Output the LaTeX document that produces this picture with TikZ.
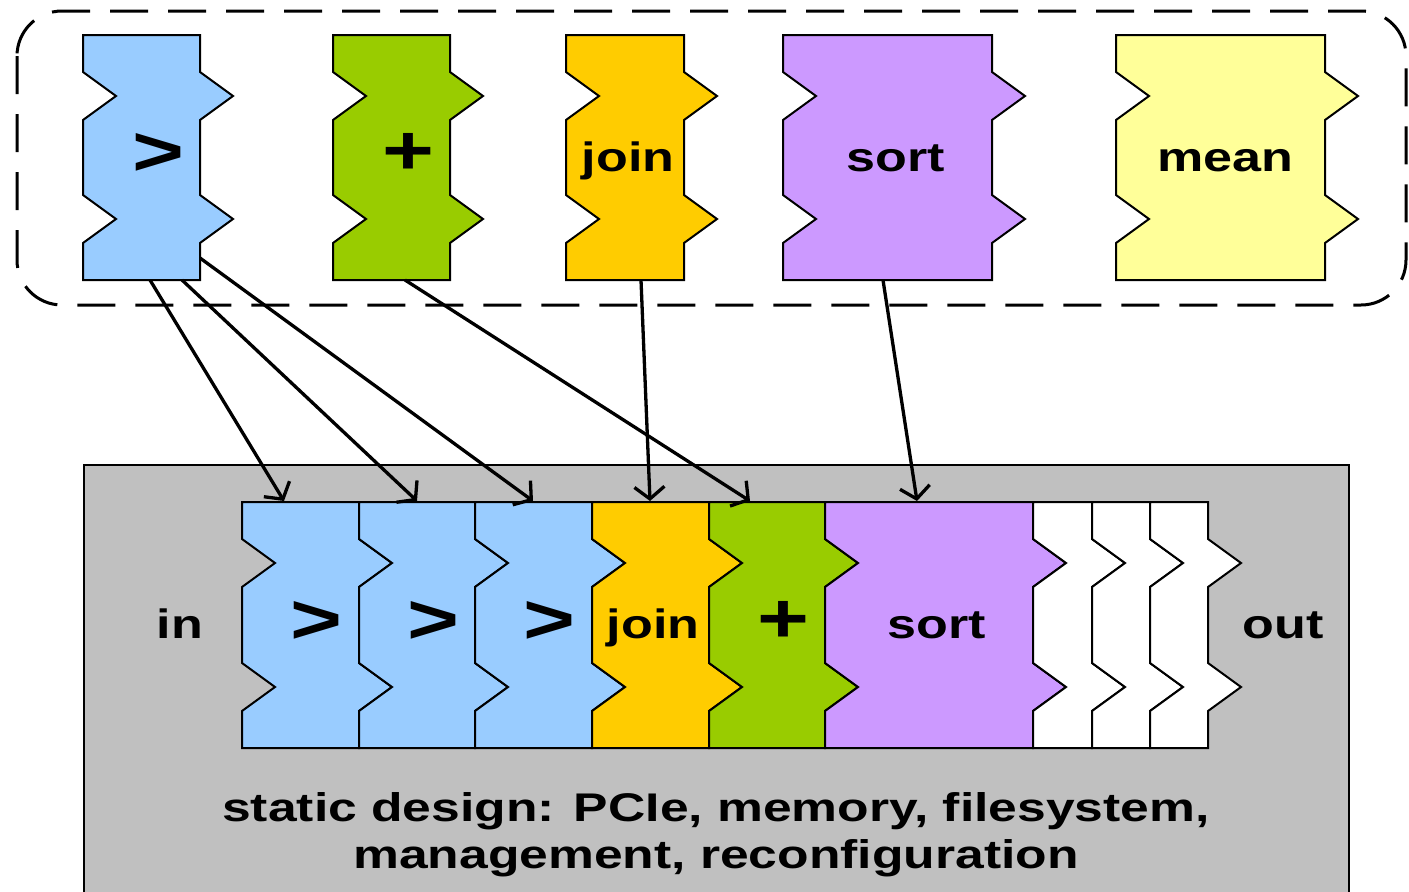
\documentclass[tikz,border=0pt]{standalone}
\usepackage{fontspec}
\setmainfont{Liberation Sans}
\usetikzlibrary{arrows.meta}
\definecolor{cblue}{HTML}{99CCFF}
\definecolor{cgreen}{HTML}{99CC00}
\definecolor{corange}{HTML}{FFCC00}
\definecolor{cpurple}{HTML}{CC99FF}
\definecolor{cyellow}{HTML}{FFFF99}
\definecolor{cgray}{HTML}{C0C0C0}
\newcommand\hstr[1]{\scalebox{1.27}[1]{#1}}
\newcommand\hstrb[1]{\scalebox{1.29}[1]{#1}}
\newcommand\puzblk[5]{% left x, top y, right x, height, colour
  \filldraw[blkline, fill=#5] (#1,#2) -- (#3,#2) -- (#3,#2+37) -- (#3+33,#2+61) -- (#3,#2+85)
   -- (#3,#2+#4-85) -- (#3+33,#2+#4-61) -- (#3,#2+#4-37) -- (#3,#2+#4) -- (#1,#2+#4)
   -- (#1,#2+#4-37) -- (#1+33,#2+#4-61) -- (#1,#2+#4-85) -- (#1,#2+85)
   -- (#1+33,#2+61) -- (#1,#2+37) -- cycle;}
\tikzset{
  blkline/.style={draw=black, line width=2pt, line join=miter},
  lbl/.style={font=\bfseries\fontsize{41}{41}\selectfont, inner sep=0pt, anchor=base},
  sym/.style={font=\bfseries\fontsize{70}{70}\selectfont, inner sep=0pt},
  conn/.style={draw=black, line width=3.3pt, -{Straight Barb[length=12pt,width=30pt,line width=3.3pt]}},
}
\begin{document}
\begin{tikzpicture}[x=1pt,y=-1pt]
\useasboundingbox (0,0) rectangle (1409,892);
% static region
\filldraw[fill=cgray, draw=black, line width=2pt] (84,465) rectangle (1349,905);
% dashed library region
\draw[line width=3pt, dash pattern=on 38pt off 20pt, rounded corners=45pt] (17,11) rectangle (1406,305);
% top blocks
\puzblk{83}{35}{200}{245}{cblue}
\puzblk{333}{35}{450}{245}{cgreen}
\puzblk{566}{35}{684}{245}{corange}
\puzblk{783}{35}{992}{245}{cpurple}
\puzblk{1116}{35}{1325}{245}{cyellow}
\node[sym] (tgt) at (158,154) {\hstr{>}};
\node[sym] (tplus) at (408,154) {\hstr{+}};
\node[lbl] (tjoin) at (628,171) {\hstr{join}};
\node[lbl] (tsort) at (896,171) {\hstr{sort}};
\node[lbl] (tmean) at (1225,171) {\hstr{mean}};
% bottom blocks
\puzblk{242}{502}{359}{246}{cblue}
\puzblk{359}{502}{475}{246}{cblue}
\puzblk{475}{502}{592}{246}{cblue}
\puzblk{592}{502}{709}{246}{corange}
\puzblk{709}{502}{825}{246}{cgreen}
\puzblk{825}{502}{1033}{246}{cpurple}
\puzblk{1033}{502}{1092}{246}{white}
\puzblk{1092}{502}{1150}{246}{white}
\puzblk{1150}{502}{1208}{246}{white}
\node[sym] (bgt1) at (316,622) {\hstr{>}};
\node[sym] (bgt2) at (433,622) {\hstr{>}};
\node[sym] (bgt3) at (549,622) {\hstr{>}};
\node[lbl] (bjoin) at (653,638) {\hstr{join}};
\node[sym] (bplus) at (783,622) {\hstr{+}};
\node[lbl] (bsort) at (937,638) {\hstr{sort}};
\node[lbl] (in) at (180,638) {\hstr{in}};
\node[lbl] (out) at (1283,638) {\hstr{out}};
\node[align=center, inner sep=0pt, font=\bfseries\fontsize{40}{47}\selectfont] (static) at (716,835)
  {\hstrb{static design: PCIe, memory, filesystem,}\\ \hstrb{management, reconfiguration}};
% connector ends
\coordinate (s1) at (150,280);
\coordinate (s2) at (182,280);
\coordinate (s3) at (200,258);
\coordinate (s4) at (405,280);
\coordinate (s5) at (641,280);
\coordinate (s6) at (883,280);
\coordinate (e1) at (284,501);
\coordinate (e2) at (417,501);
\coordinate (e3) at (533,501);
\coordinate (e4) at (750,501);
\coordinate (e5) at (650,501);
\coordinate (e6) at (917,501);
\draw[conn] (s1) -- (e1);
\draw[conn] (s2) -- (e2);
\draw[conn] (s3) -- (e3);
\draw[conn] (s4) -- (e4);
\draw[conn] (s5) -- (e5);
\draw[conn] (s6) -- (e6);
\end{tikzpicture}
\end{document}
